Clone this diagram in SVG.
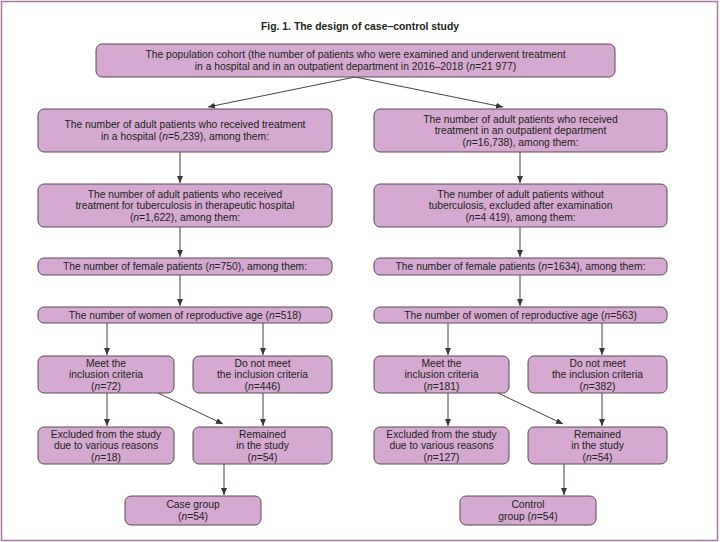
<svg xmlns="http://www.w3.org/2000/svg" width="720" height="542" viewBox="0 0 720 542">
<style>
.box{fill:#d6a9d2;stroke:#5b4b52;stroke-width:1}
.t{font-family:"Liberation Sans",Arial,sans-serif;font-size:10.3px;fill:#231f20;text-anchor:middle}
.title{font-family:"Liberation Sans",Arial,sans-serif;font-size:10.4px;font-weight:bold;fill:#231f20;text-anchor:middle}
.c{stroke:#4a4040;stroke-width:1;fill:none;marker-end:url(#ah)}
</style>
<defs>
<marker id="ah" markerUnits="userSpaceOnUse" markerWidth="8" markerHeight="6" refX="7" refY="3" orient="auto">
<path d="M0,0 L7,3 L0,6 Z" fill="#3d3535"/>
</marker>
</defs>
<rect x="1.5" y="1.5" width="716" height="539" fill="#ffffff" stroke="#a57c9e" stroke-width="1.5"/>
<text class="title" x="360" y="30">Fig. 1. The design of case–control study</text>

<g id="connectors">
<line class="c" x1="355" y1="77" x2="208" y2="107"/>
<line class="c" x1="355" y1="77" x2="503" y2="107"/>
<line class="c" x1="180" y1="152" x2="180" y2="183"/>
<line class="c" x1="520" y1="152" x2="520" y2="183"/>
<line class="c" x1="180" y1="227" x2="180" y2="257"/>
<line class="c" x1="520" y1="227" x2="520" y2="257"/>
<line class="c" x1="180" y1="275" x2="180" y2="306"/>
<line class="c" x1="520" y1="275" x2="520" y2="306"/>
<line class="c" x1="107" y1="323" x2="107" y2="355"/>
<line class="c" x1="263" y1="323" x2="263" y2="355"/>
<line class="c" x1="448" y1="323" x2="448" y2="355"/>
<line class="c" x1="602" y1="323" x2="602" y2="355"/>
<line class="c" x1="107" y1="393" x2="107" y2="426"/>
<line class="c" x1="263" y1="393" x2="263" y2="426"/>
<line class="c" x1="158" y1="393" x2="223" y2="424"/>
<line class="c" x1="448" y1="393" x2="448" y2="426"/>
<line class="c" x1="602" y1="393" x2="602" y2="426"/>
<line class="c" x1="498" y1="393" x2="563" y2="424"/>
<line class="c" x1="224" y1="464" x2="224" y2="495"/>
<line class="c" x1="564" y1="464" x2="564" y2="495"/>
</g>

<g id="cohort">
<rect class="box" x="96" y="44" width="519" height="33" rx="6"/>
<text class="t" x="355.5" y="58.4">The population cohort (the number of patients who were examined and underwent  treatment</text>
<text class="t" x="355.5" y="69.9">in a  hospital and in an outpatient  department in 2016–2018 (<tspan font-style="italic">n</tspan>=21 977)</text>
</g>

<g id="hospital">
<rect class="box" x="38" y="109" width="294" height="43" rx="6"/>
<text class="t" x="185" y="128.4">The number of adult patients who received treatment</text>
<text class="t" x="185" y="139.9">in a hospital (<tspan font-style="italic">n</tspan>=5,239), among them:</text>
</g>
<g id="outpatient">
<rect class="box" x="374" y="109" width="293" height="43" rx="6"/>
<text class="t" x="520.5" y="122.6">The number of adult patients who received</text>
<text class="t" x="520.5" y="134.1">treatment in an outpatient department</text>
<text class="t" x="520.5" y="145.6">(<tspan font-style="italic">n</tspan>=16,738), among them:</text>
</g>

<g id="tb">
<rect class="box" x="38" y="184" width="294" height="43" rx="6"/>
<text class="t" x="185" y="197.6">The number of adult patients who received</text>
<text class="t" x="185" y="209.1">treatment for tuberculosis in therapeutic hospital</text>
<text class="t" x="185" y="220.6">(<tspan font-style="italic">n</tspan>=1,622), among them:</text>
</g>
<g id="notb">
<rect class="box" x="374" y="184" width="293" height="43" rx="6"/>
<text class="t" x="520.5" y="197.6">The number of adult patients without</text>
<text class="t" x="520.5" y="209.1">tuberculosis, excluded after examination</text>
<text class="t" x="520.5" y="220.6">(<tspan font-style="italic">n</tspan>=4 419), among them:</text>
</g>

<g id="femaleL">
<rect class="box" x="38" y="258" width="294" height="17" rx="6"/>
<text class="t" x="185" y="270.1">The number of female patients (<tspan font-style="italic">n</tspan>=750), among them:</text>
</g>
<g id="femaleR">
<rect class="box" x="374" y="258" width="293" height="17" rx="6"/>
<text class="t" x="520.5" y="270.1">The number of female patients (<tspan font-style="italic">n</tspan>=1634), among them:</text>
</g>

<g id="reproL">
<rect class="box" x="38" y="307" width="294" height="16" rx="6"/>
<text class="t" x="185" y="318.6">The number of women of reproductive age (<tspan font-style="italic">n</tspan>=518)</text>
</g>
<g id="reproR">
<rect class="box" x="374" y="307" width="293" height="16" rx="6"/>
<text class="t" x="520.5" y="318.6">The number of women of reproductive age (<tspan font-style="italic">n</tspan>=563)</text>
</g>

<g id="meetL">
<rect class="box" x="38" y="356" width="136" height="37" rx="6"/>
<text class="t" x="106" y="366.6">Meet the</text>
<text class="t" x="106" y="378.1">inclusion criteria</text>
<text class="t" x="106" y="389.6">(<tspan font-style="italic">n</tspan>=72)</text>
</g>
<g id="notmeetL">
<rect class="box" x="193" y="356" width="139" height="37" rx="6"/>
<text class="t" x="262.5" y="366.6">Do not meet</text>
<text class="t" x="262.5" y="378.1">the inclusion criteria</text>
<text class="t" x="262.5" y="389.6">(<tspan font-style="italic">n</tspan>=446)</text>
</g>
<g id="meetR">
<rect class="box" x="374" y="356" width="135" height="37" rx="6"/>
<text class="t" x="441.5" y="366.6">Meet the</text>
<text class="t" x="441.5" y="378.1">inclusion criteria</text>
<text class="t" x="441.5" y="389.6">(<tspan font-style="italic">n</tspan>=181)</text>
</g>
<g id="notmeetR">
<rect class="box" x="528" y="356" width="139" height="37" rx="6"/>
<text class="t" x="597.5" y="366.6">Do not meet</text>
<text class="t" x="597.5" y="378.1">the inclusion criteria</text>
<text class="t" x="597.5" y="389.6">(<tspan font-style="italic">n</tspan>=382)</text>
</g>

<g id="excludedL">
<rect class="box" x="38" y="427" width="136" height="37" rx="6"/>
<text class="t" x="106" y="437.6">Excluded from the study</text>
<text class="t" x="106" y="449.1">due to various reasons</text>
<text class="t" x="106" y="460.6">(<tspan font-style="italic">n</tspan>=18)</text>
</g>
<g id="remainedL">
<rect class="box" x="193" y="427" width="139" height="37" rx="6"/>
<text class="t" x="262.5" y="437.6">Remained</text>
<text class="t" x="262.5" y="449.1">in the study</text>
<text class="t" x="262.5" y="460.6">(<tspan font-style="italic">n</tspan>=54)</text>
</g>
<g id="excludedR">
<rect class="box" x="374" y="427" width="135" height="37" rx="6"/>
<text class="t" x="441.5" y="437.6">Excluded from the study</text>
<text class="t" x="441.5" y="449.1">due to various reasons</text>
<text class="t" x="441.5" y="460.6">(<tspan font-style="italic">n</tspan>=127)</text>
</g>
<g id="remainedR">
<rect class="box" x="528" y="427" width="139" height="37" rx="6"/>
<text class="t" x="597.5" y="437.6">Remained</text>
<text class="t" x="597.5" y="449.1">in the study</text>
<text class="t" x="597.5" y="460.6">(<tspan font-style="italic">n</tspan>=54)</text>
</g>

<g id="casegroup">
<rect class="box" x="125" y="496" width="136" height="29" rx="6"/>
<text class="t" x="193" y="508.4">Case group</text>
<text class="t" x="193" y="519.9">(<tspan font-style="italic">n</tspan>=54)</text>
</g>
<g id="controlgroup">
<rect class="box" x="460" y="496" width="136" height="29" rx="6"/>
<text class="t" x="528" y="508.4">Control</text>
<text class="t" x="528" y="519.9">group (<tspan font-style="italic">n</tspan>=54)</text>
</g>
</svg>
